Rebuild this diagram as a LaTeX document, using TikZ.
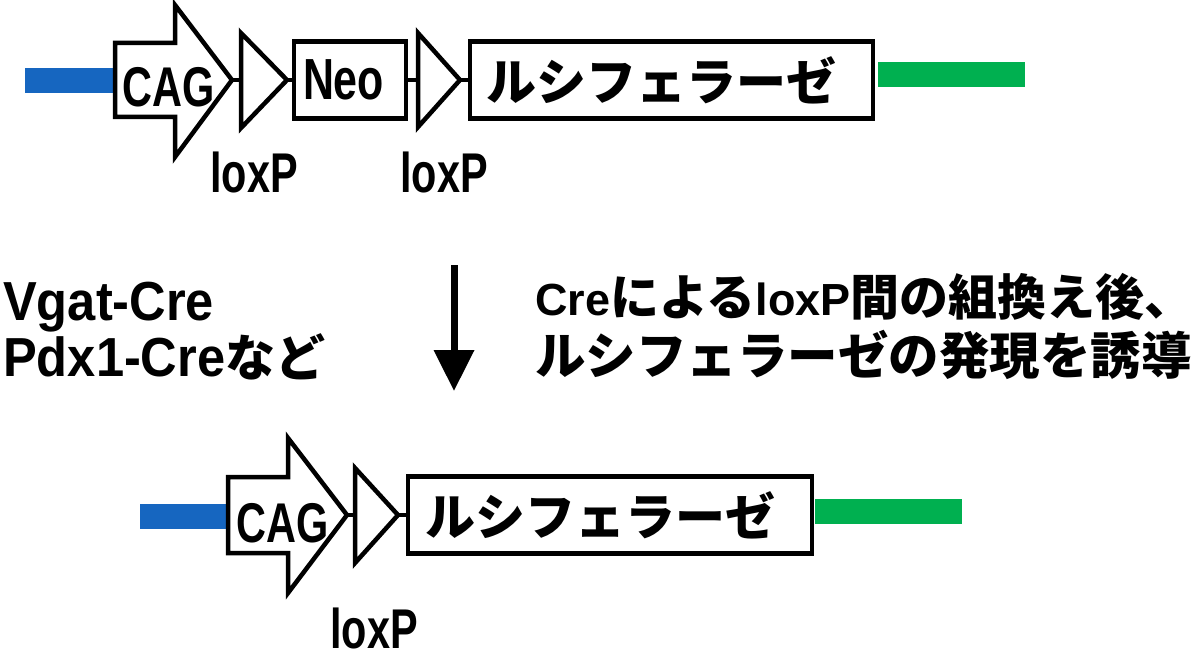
\documentclass[tikz,border=0pt]{standalone}
\usepackage{fontspec}
\usetikzlibrary{arrows.meta}
\setmainfont{Liberation Sans}
\newfontfamily\tagfont{Liberation Sans}[FakeStretch=0.74]
\newfontfamily\leftfont{Liberation Sans}[FakeStretch=0.92]
\newfontfamily\rightfont{Liberation Sans}
\newfontfamily\jpfont{Noto Sans CJK JP}
\definecolor{dnablue}{RGB}{22,102,192}
\definecolor{dnagreen}{RGB}{0,176,80}
\newcommand\jp[2][50]{{\fontsize{#1}{58}\jpfont\bfseries #2}}
\tikzset{
  part/.style={draw,line width=4.5pt,miter limit=20,fill=white},
  genebox/.style={part,rectangle,inner ysep=0pt,minimum height=77pt,align=left},
  link/.style={line width=4pt},
  blueend/.style={dnablue,line width=25pt},
  greenend/.style={dnagreen,line width=25pt},
  tag/.style={font=\fontsize{56}{60}\tagfont\bfseries,inner sep=0pt,anchor=base},
  note/.style={inner sep=0pt,anchor=north west,align=left},
}
\begin{document}
\begin{tikzpicture}[x=1pt,y=-1pt]
\useasboundingbox (0,0) rectangle (1200,658);
% before recombination
\coordinate (blue1a) at (25,81);
\coordinate (blue1b) at (117,81);
\draw[blueend] (blue1a) -- (blue1b);
\coordinate (cag1tip) at (232,80);
\draw[part] (115,43) -- (175,43) -- (175,5) -- (cag1tip) -- (175,157) -- (175,117) -- (115,117) -- cycle;
\node[tag] (cag1) at (169,107) {CAG};
\coordinate (lox1in) at (241,80);
\coordinate (lox1tip) at (287,80);
\draw[part] (241,33) -- (lox1tip) -- (241,128) -- cycle;
\draw[link] (cag1tip) -- (lox1in);
\node[genebox,inner xsep=9pt,text width=94pt,font=\fontsize{58}{60}\tagfont\bfseries] (neo) at (350,80) {Neo};
\draw[link] (lox1tip) -- (neo);
\coordinate (lox2in) at (418,80);
\coordinate (lox2tip) at (460,80);
\draw[part] (418,33) -- (lox2tip) -- (418,127) -- cycle;
\draw[link] (neo) -- (lox2in);
\node[genebox,inner xsep=16pt,text width=371pt] (luc1) at (671.5,80) {\jp{ルシフェラーゼ}};
\draw[link] (lox2tip) -- (luc1);
\coordinate (green1a) at (878,75);
\coordinate (green1b) at (1025,75);
\draw[greenend] (green1a) -- (green1b);
\node[tag] (loxlab1) at (254,193) {loxP};
\node[tag] (loxlab2) at (444,193) {loxP};
% Cre step
\coordinate (down1) at (454,265);
\coordinate (down2) at (454,391);
\draw[line width=7pt,-{Triangle[width=39pt,length=41pt]}] (down1) -- (down2);
\node[note,font=\fontsize{55}{50}\selectfont] (hosts) at (3,282) {{\leftfont\bfseries Vgat-Cre}\\
  {\leftfont\bfseries Pdx1-Cre}\jp{など}};
\node[note,font=\fontsize{50}{59}\selectfont] (recomb) at (535,273) {{\fontsize{45}{59}\rightfont\bfseries Cre}\jp[49]{による}{\fontsize{45}{59}\rightfont\bfseries loxP}\jp[49]{間の組換え後、}\\
  \jp[50.5]{ルシフェラーゼの発現を誘導}};
% after recombination
\coordinate (blue2a) at (140,516);
\coordinate (blue2b) at (230,516);
\draw[blueend] (blue2a) -- (blue2b);
\coordinate (cag2tip) at (347,515);
\draw[part] (228,477) -- (288,477) -- (288,438) -- (cag2tip) -- (288,593) -- (288,553) -- (228,553) -- cycle;
\node[tag] (cag2) at (283,542) {CAG};
\coordinate (lox3in) at (355,515);
\coordinate (lox3tip) at (398,515);
\draw[part] (355,468) -- (lox3tip) -- (355,563) -- cycle;
\draw[link] (cag2tip) -- (lox3in);
\node[genebox,inner xsep=17pt,text width=370pt] (luc2) at (610,515) {\jp{ルシフェラーゼ}};
\draw[link] (lox3tip) -- (luc2);
\coordinate (green2a) at (815,511);
\coordinate (green2b) at (962,511);
\draw[greenend] (green2a) -- (green2b);
\node[tag] (loxlab3) at (374,648) {loxP};
\end{tikzpicture}
\end{document}
